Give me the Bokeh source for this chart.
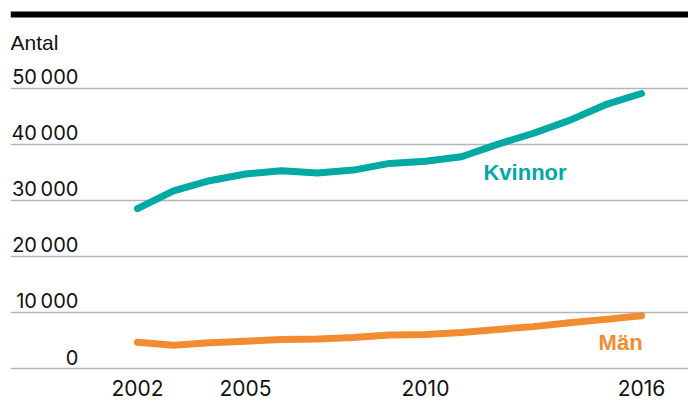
from bokeh.plotting import figure
from bokeh.models import Range1d, FixedTicker, Span, Label
from bokeh.core.properties import value
from bokeh.embed import file_html
from bokeh.resources import INLINE

years = [2002, 2003, 2004, 2005, 2006, 2007, 2008, 2009, 2010, 2011, 2012, 2013, 2014, 2015, 2016]
kvinnor = [28500, 31700, 33500, 34700, 35300, 34900, 35400, 36600, 37000, 37800, 40000, 42000, 44300, 47100, 49100]
man = [4600, 4050, 4500, 4800, 5100, 5200, 5450, 5900, 6000, 6350, 6900, 7400, 8100, 8700, 9350]
y_ticks = [0, 10000, 20000, 30000, 40000, 50000]
y_tick_labels = ["0", "10\u2009000", "20\u2009000", "30\u2009000", "40\u2009000", "50\u2009000"]
x_ticks = [2002, 2005, 2010, 2016]

TEAL = "#00A9A3"
ORANGE = "#F28C30"
FONT = "Liberation Sans"
NUMFONT = "Inter"

X0, X1 = 1998.4722, 2017.3056
Y0, Y1 = -805, 65742

p = figure(width=688, height=406, output_backend="svg", toolbar_location=None,
           x_range=Range1d(X0, X1), y_range=Range1d(Y0, Y1),
           min_border_left=10, min_border_right=0, min_border_top=0, min_border_bottom=34)
p.outline_line_color = None
p.background_fill_color = "white"
p.border_fill_color = "white"

# grid
p.yaxis.ticker = FixedTicker(ticks=y_ticks)
p.yaxis.visible = False
p.ygrid.grid_line_color = "#b5b5b5"
p.ygrid.grid_line_width = 1.5
p.xgrid.grid_line_color = None

# x axis
p.xaxis.ticker = FixedTicker(ticks=x_ticks)
p.xaxis.axis_line_color = None
p.xaxis.major_tick_line_color = None
p.xaxis.minor_tick_line_color = None
p.xaxis.major_label_text_font = NUMFONT
p.xaxis.major_label_text_font_size = "21px"
p.xaxis.major_label_text_color = "#111111"
p.xaxis.major_label_standoff = 1

# y tick labels above gridlines
p.text(x=[2000.36] * len(y_ticks), y=y_ticks, text=y_tick_labels,
       text_font=value(NUMFONT), text_font_size="20px", text_color="#111111",
       text_align="right", text_baseline="alphabetic", y_offset=-11)

# top black bar
p.add_layout(Span(location=63238, dimension="width", line_color="black", line_width=6))

# Antal
p.add_layout(Label(x=X0, y=58300, text="Antal", text_font=FONT, text_font_size="21px",
                   text_color="#111111", text_align="left", text_baseline="alphabetic"))

# lines
p.line(years, kvinnor, line_color=TEAL, line_width=7, line_cap="round", line_join="round")
p.line(years, man, line_color=ORANGE, line_width=7, line_cap="round", line_join="round")

p.add_layout(Label(x=2011.61, y=34970, text="Kvinnor", text_font=FONT, text_font_size="22px",
                   text_font_style="bold", text_color=TEAL, text_align="left", text_baseline="alphabetic"))
p.add_layout(Label(x=2016.03, y=4560, text="Män", text_font=FONT, text_font_size="22px",
                   text_font_style="bold", text_color=ORANGE, text_align="right", text_baseline="alphabetic"))

open("out.html", "w").write(file_html(p, INLINE))
